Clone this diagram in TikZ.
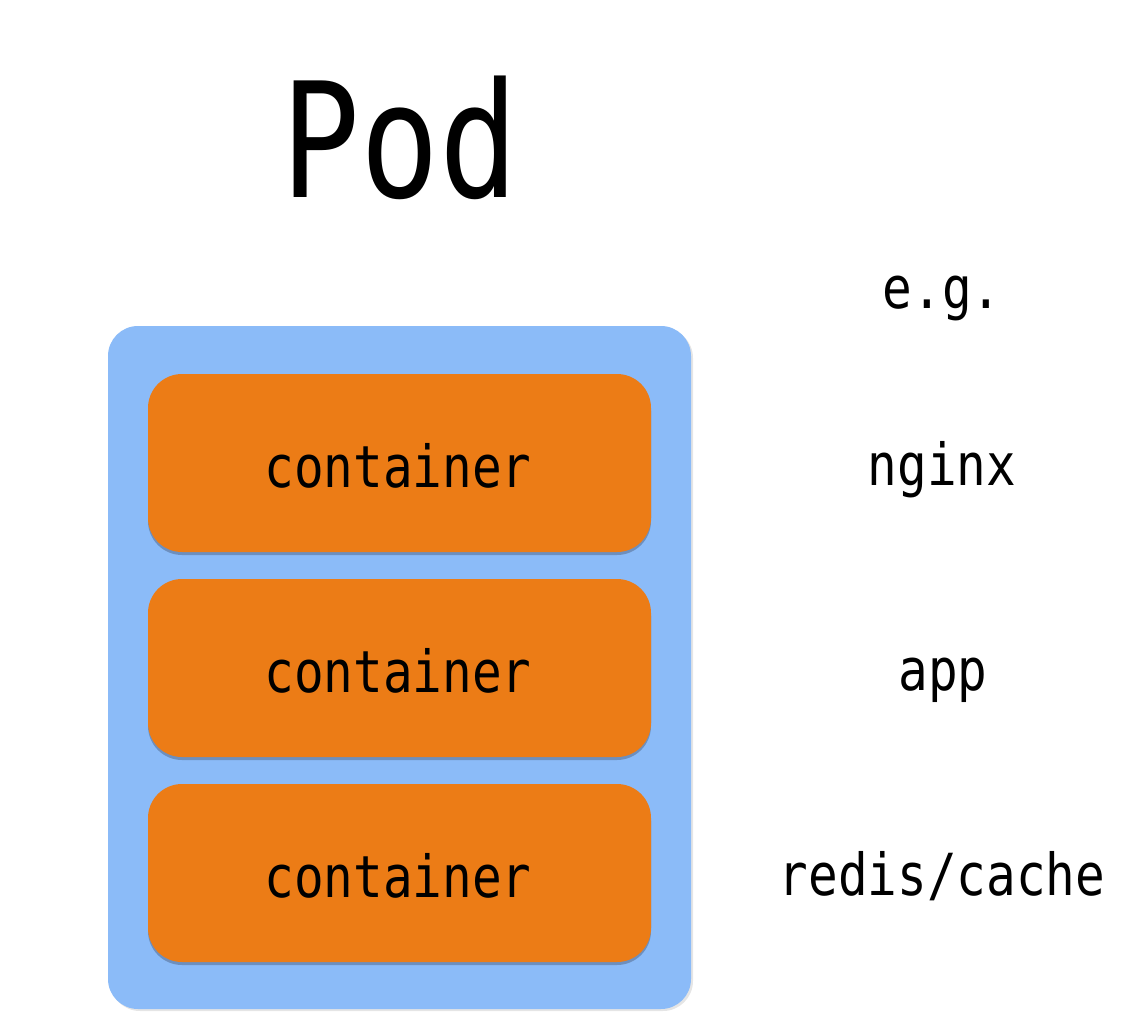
\documentclass[tikz,border=0pt]{standalone}
\usepackage{fontspec}
\setmonofont{DejaVu Sans Mono}
\usetikzlibrary{shadows}
\definecolor{podblue}{HTML}{8BBBF8}
\definecolor{ctorange}{HTML}{EC7C16}
\definecolor{shadowcol}{HTML}{4A5A78}
\begin{document}
\begin{tikzpicture}[x=1pt,y=-1pt,
  podbox/.style={fill=podblue, rounded corners=30pt, draw=none,
    drop shadow={opacity=0.10, shadow xshift=2pt, shadow yshift=-2pt, fill=black}},
  ctbox/.style={fill=ctorange, rounded corners=34pt, draw=none,
    drop shadow={opacity=0.45, shadow xshift=0pt, shadow yshift=-3pt, fill=shadowcol}},
  lbl/.style={anchor=base, inner sep=0pt, font=\ttfamily\fontsize{58}{64}\selectfont, xscale=0.85},
  title/.style={anchor=base, inner sep=0pt, font=\ttfamily\fontsize{160}{170}\selectfont, xscale=0.82}]
\useasboundingbox (0,0) rectangle (1144,1036);
\fill[white] (0,0) rectangle (1144,1036);
\node[title] (pod) at (400,197) {Pod};
\path[podbox] (108,326) rectangle (691,1009);
\path[ctbox] (148,374) rectangle (651,552);
\path[ctbox] (148,579) rectangle (651,757);
\path[ctbox] (148,784) rectangle (651,962);
\node[lbl] (c1) at (398,487) {container};
\node[lbl] (c2) at (398,692) {container};
\node[lbl] (c3) at (398,897) {container};
\node[lbl] (eg) at (942,308) {e.g.};
\node[lbl] (nginx) at (942,485) {nginx};
\node[lbl] (app) at (943,690) {app};
\node[lbl] (redis) at (942,895) {redis/cache};
\end{tikzpicture}
\end{document}
